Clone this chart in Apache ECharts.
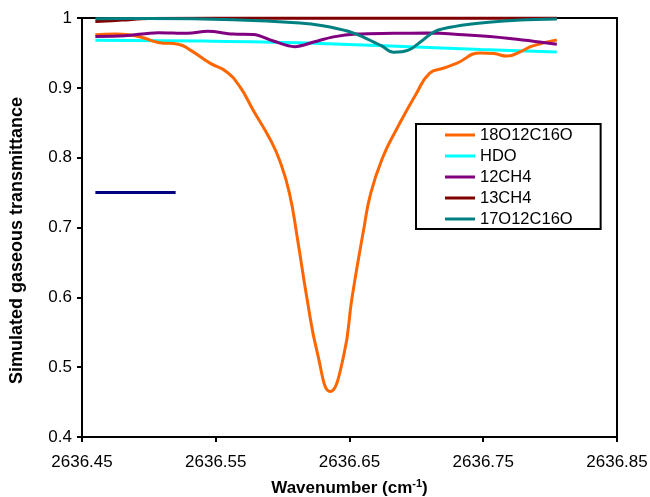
<!DOCTYPE html>
<html>
<head>
<meta charset="utf-8">
<script src="https://cdn.jsdelivr.net/npm/echarts@6/dist/echarts.min.js"></script>
<style>
html,body{margin:0;padding:0;background:#fff;}
#chart{width:650px;height:497px;}
</style>
</head>
<body>
<div id="chart"></div>
<script>
// Wavenumber tick labels
const xTicks = [2636.45, 2636.55, 2636.65, 2636.75, 2636.85];
const yTicks = [0.4, 0.5, 0.6, 0.7, 0.8, 0.9, 1];
const seriesNames = ['18O12C16O', 'HDO', '12CH4', '13CH4', '17O12C16O'];

// 18O12C16O
const o18W = [2636.460, 2636.475, 2636.485, 2636.495, 2636.507, 2636.522, 2636.531, 2636.546, 2636.558, 2636.568, 2636.578, 2636.591, 2636.598, 2636.605, 2636.611, 2636.618, 2636.626, 2636.6356, 2636.6455, 2636.652, 2636.6605, 2636.666, 2636.675, 2636.685, 2636.700, 2636.710, 2636.720, 2636.730, 2636.748, 2636.758, 2636.768, 2636.778, 2636.787, 2636.805];
const o18T = [0.976, 0.977, 0.976, 0.972, 0.965, 0.9625, 0.954, 0.935, 0.923, 0.9016, 0.868, 0.825, 0.795, 0.750, 0.685, 0.601, 0.520, 0.465, 0.515, 0.601, 0.696, 0.750, 0.801, 0.840, 0.892, 0.921, 0.928, 0.935, 0.950, 0.949, 0.9455, 0.952, 0.960, 0.9685];

// HDO
const hdoW = [2636.460, 2636.541, 2636.613, 2636.748, 2636.805];
const hdoT = [0.968, 0.967, 0.9646, 0.955, 0.9513];

// 12CH4
const ch4W = [2636.460, 2636.482, 2636.507, 2636.529, 2636.544, 2636.563, 2636.578, 2636.593, 2636.609, 2636.624, 2636.638, 2636.655, 2636.683, 2636.708, 2636.738, 2636.768, 2636.805];
const ch4T = [0.9736, 0.9745, 0.979, 0.978, 0.981, 0.977, 0.9765, 0.967, 0.959, 0.966, 0.973, 0.977, 0.978, 0.9784, 0.9755, 0.971, 0.9625];

// 13CH4
const c13W = [2636.460, 2636.480, 2636.500, 2636.600, 2636.700, 2636.805];
const c13T = [0.995, 0.997, 0.9993, 0.9995, 0.9995, 0.9995];

// 17O12C16O
const o17W = [2636.460, 2636.500, 2636.563, 2636.613, 2636.630, 2636.649, 2636.661, 2636.674, 2636.683, 2636.694, 2636.704, 2636.714, 2636.729, 2636.754, 2636.778, 2636.805];
const o17T = [0.999, 0.9992, 0.9976, 0.993, 0.989, 0.981, 0.972, 0.960, 0.951, 0.954, 0.967, 0.981, 0.988, 0.9938, 0.997, 0.9985];

// unnamed navy segment
const navyW = [2636.460, 2636.520];
const navyT = [0.75, 0.75];

const X0 = xTicks[0];
function pts(w, t) { return w.map((x, i) => [+(x - X0).toFixed(5), t[i]]); }

const colors = ['#FF6600', '#00FFFF', '#800080', '#800000', '#008080'];
const font = 'Liberation Sans';

const chart = echarts.init(document.getElementById('chart'));
const lineSeries = (name, w, t, color, z, sm) => ({
  name: name, type: 'line', data: pts(w, t), smooth: sm, symbol: 'none',
  lineStyle: { color: color, width: 3 }, itemStyle: { color: color }, z: z, clip: false
});

chart.setOption({
  animation: false,
  grid: { left: 82, right: 33, top: 18, bottom: 60, show: true, borderColor: '#000', borderWidth: 2,
    outerBoundsMode: 'none', containLabel: false },
  xAxis: {
    type: 'value', min: 0, max: xTicks[xTicks.length - 1] - X0, interval: 0.1,
    axisLine: { show: true, lineStyle: { color: '#000', width: 2 } },
    axisTick: { show: true, length: 5, lineStyle: { color: '#000', width: 2 } },
    splitLine: { show: false },
    axisLabel: { color: '#000', fontFamily: font, fontSize: 17, margin: 17,
      formatter: v => (X0 + v).toFixed(2) },
    name: '{a|Wavenumber (cm}{b|-1}{a|)}', nameLocation: 'middle', nameGap: 41,
    nameTextStyle: { rich: {
      a: { fontFamily: font, fontSize: 17, fontWeight: 'bold', color: '#000' },
      b: { fontFamily: font, fontSize: 11, fontWeight: 'bold', color: '#000', verticalAlign: 'top', padding: [0, 0, 9, 0] }
    } }
  },
  yAxis: {
    type: 'value', min: yTicks[0], max: yTicks[yTicks.length - 1], interval: 0.1,
    axisLine: { show: true, lineStyle: { color: '#000', width: 2 } },
    axisTick: { show: true, length: 5, lineStyle: { color: '#000', width: 2 } },
    splitLine: { show: false },
    axisLabel: { color: '#000', fontFamily: font, fontSize: 17, margin: 10 },
    name: 'Simulated gaseous transmittance', nameLocation: 'middle', nameGap: 56,
    nameTextStyle: { fontFamily: font, fontSize: 18, fontWeight: 'bold', color: '#000', padding: [0, 26, 0, 0] }
  },
  legend: {
    data: seriesNames, orient: 'vertical', left: 416, top: 124,
    padding: [2, 28, 1, 29], itemGap: 3, itemWidth: 30, itemHeight: 3, icon: 'rect',
    borderColor: '#000', borderWidth: 2, backgroundColor: '#fff',
    textStyle: { fontFamily: font, fontSize: 16.5, color: '#000', lineHeight: 18 }
  },
  series: [
    lineSeries(seriesNames[0], o18W, o18T, colors[0], 5, 0.5),
    lineSeries(seriesNames[1], hdoW, hdoT, colors[1], 4, 0.35),
    lineSeries(seriesNames[2], ch4W, ch4T, colors[2], 6, 0.35),
    lineSeries(seriesNames[3], c13W, c13T, colors[3], 3, 0.35),
    lineSeries(seriesNames[4], o17W, o17T, colors[4], 7, 0.35),
    lineSeries('navy', navyW, navyT, '#000080', 2, 0.35)
  ]
});
</script>
</body>
</html>
